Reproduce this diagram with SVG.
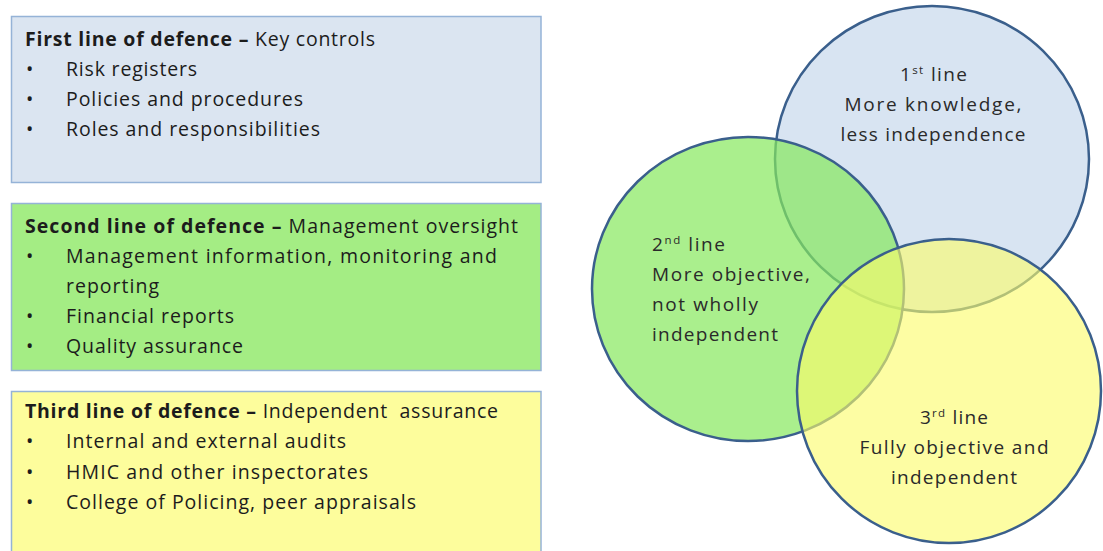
<svg xmlns="http://www.w3.org/2000/svg" width="1103" height="551" viewBox="0 0 1103 551">
  <style>
    .box { stroke: #95b3d7; stroke-width: 1.5; }
    .t { font-family: "Open Sans", "Liberation Sans", sans-serif; font-size: 19.5px; fill: #1c1c1c; }
    .b { font-weight: bold; }
    .c { font-family: "Open Sans", "Liberation Sans", sans-serif; font-size: 19px; fill: #2a2a2a; }
    .sup { font-size: 11.5px; }
    .ring { stroke: #3a5f8c; stroke-width: 2.5; }
  </style>
  <rect width="1103" height="551" fill="#ffffff"/>

  <!-- First line of defence box -->
  <g id="box-first">
    <rect class="box" x="11.5" y="16.5" width="529.5" height="166" fill="#dbe5f1"/>
    <text class="t" x="25" y="46" textLength="350" lengthAdjust="spacing"><tspan class="b">First line of defence –</tspan> Key controls</text>
    <text class="t" x="26" y="76">•</text>
    <text class="t" x="66" y="76" textLength="131" lengthAdjust="spacing">Risk registers</text>
    <text class="t" x="26" y="106">•</text>
    <text class="t" x="66" y="106" textLength="237" lengthAdjust="spacing">Policies and procedures</text>
    <text class="t" x="26" y="136">•</text>
    <text class="t" x="66" y="136" textLength="254" lengthAdjust="spacing">Roles and responsibilities</text>
  </g>

  <!-- Second line of defence box -->
  <g id="box-second">
    <rect class="box" x="11.5" y="203.5" width="529.5" height="167" fill="#a4ed84"/>
    <text class="t" x="25" y="233" textLength="493" lengthAdjust="spacing"><tspan class="b">Second line of defence –</tspan> Management oversight</text>
    <text class="t" x="26" y="263">•</text>
    <text class="t" x="66" y="263" textLength="431" lengthAdjust="spacing">Management information, monitoring and</text>
    <text class="t" x="66" y="293" textLength="93" lengthAdjust="spacing">reporting</text>
    <text class="t" x="26" y="323">•</text>
    <text class="t" x="66" y="323" textLength="168" lengthAdjust="spacing">Financial reports</text>
    <text class="t" x="26" y="353">•</text>
    <text class="t" x="66" y="353" textLength="177" lengthAdjust="spacing">Quality assurance</text>
  </g>

  <!-- Third line of defence box -->
  <g id="box-third">
    <rect class="box" x="11.5" y="391.5" width="529.5" height="162" fill="#fdfd9c"/>
    <text class="t" x="25" y="418" textLength="473" lengthAdjust="spacing"><tspan class="b">Third line of defence –</tspan> Independent&#160; assurance</text>
    <text class="t" x="26" y="448">•</text>
    <text class="t" x="66" y="448" textLength="280" lengthAdjust="spacing">Internal and external audits</text>
    <text class="t" x="26" y="479">•</text>
    <text class="t" x="66" y="479" textLength="302" lengthAdjust="spacing">HMIC and other inspectorates</text>
    <text class="t" x="26" y="509">•</text>
    <text class="t" x="66" y="509" textLength="350" lengthAdjust="spacing">College of Policing, peer appraisals</text>
  </g>

  <!-- Overlapping circles: blue underneath, green and yellow translucent on top -->
  <g id="circle-first">
    <ellipse class="ring" cx="932" cy="159" rx="157" ry="153" fill="#d8e4f2"/>
  </g>
  <g id="circle-second">
    <ellipse class="ring" cx="748" cy="289" rx="156" ry="152" fill="#86e85c" fill-opacity="0.7"/>
  </g>
  <g id="circle-third">
    <ellipse class="ring" cx="949" cy="391" rx="152" ry="152" fill="#fcfc6a" fill-opacity="0.62"/>
  </g>

  <!-- Circle labels -->
  <g id="label-first">
    <text class="c" x="900" y="81" textLength="67" lengthAdjust="spacing">1<tspan class="sup" dy="-7">st</tspan><tspan dy="7"> line</tspan></text>
    <text class="c" x="933" y="111" text-anchor="middle" textLength="177" lengthAdjust="spacing">More knowledge,</text>
    <text class="c" x="933" y="141" text-anchor="middle" textLength="185" lengthAdjust="spacing">less independence</text>
  </g>
  <g id="label-second">
    <text class="c" x="652" y="251" textLength="73" lengthAdjust="spacing">2<tspan class="sup" dy="-7">nd</tspan><tspan dy="7"> line</tspan></text>
    <text class="c" x="652" y="281" textLength="158" lengthAdjust="spacing">More objective,</text>
    <text class="c" x="652" y="311" textLength="106" lengthAdjust="spacing">not wholly</text>
    <text class="c" x="652" y="341" textLength="126" lengthAdjust="spacing">independent</text>
  </g>
  <g id="label-third">
    <text class="c" x="920" y="424" textLength="68" lengthAdjust="spacing">3<tspan class="sup" dy="-7">rd</tspan><tspan dy="7"> line</tspan></text>
    <text class="c" x="954" y="454" text-anchor="middle" textLength="189" lengthAdjust="spacing">Fully objective and</text>
    <text class="c" x="954" y="484" text-anchor="middle" textLength="126" lengthAdjust="spacing">independent</text>
  </g>
</svg>
